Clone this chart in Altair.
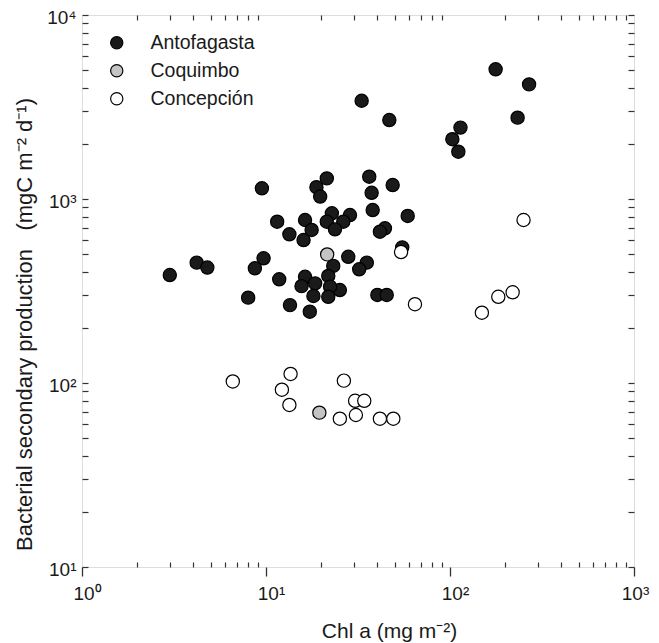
import altair as alt
import pandas as pd

# ---- data (Chl a in mg m^-2, BSP in mgC m^-2 d^-1) ----
anto_chl = [3.0, 4.2, 4.8, 9.5, 11.5, 13.4, 16.0, 16.3, 17.7, 9.7,
            8.7, 11.8, 8.0, 13.5, 17.3, 16.3, 18.8, 19.7, 21.4, 36.4,
            37.5, 48.8, 38.0, 58.9, 22.8, 21.4, 28.6, 26.3, 23.7, 44.3,
            41.6, 55.0, 28.0, 35.3, 32.1, 23.2, 21.8, 25.2, 22.3, 21.8,
            40.3, 45.3, 15.6, 18.5, 18.1, 33.1, 46.8, 177, 269, 233,
            114, 103, 111]
anto_bsp = [386, 451, 424, 1143, 753, 643, 598, 769, 679, 476,
            420, 366, 291, 265, 244, 378, 1160, 1031, 1294, 1322,
            1081, 1191, 871, 809, 836, 753, 818, 753, 684, 693,
            664, 546, 485, 451, 415, 433, 382, 320, 334, 294,
            301, 301, 336, 348, 297, 3420, 2686, 5070, 4196, 2768,
            2443, 2113, 1808]

coq_chl = [21.5, 19.5]
coq_bsp = [500, 69]

conc_chl = [6.6, 13.6, 12.2, 13.4, 25.2, 26.5, 30.5, 34.2, 30.8, 41.6,
            49.2, 54.2, 64.5, 149, 183, 219, 251]
conc_bsp = [102, 112, 92, 76, 64, 103, 80, 80, 67, 64,
            64, 515, 268, 241, 294, 311, 769]

sites = ["Antofagasta", "Coquimbo", "Concepción"]
site_fills = ["#1a1a1a", "#c4c4c4", "#ffffff"]

x_major = [1, 10, 100, 1000]
x_minor = [2, 3, 4, 5, 6, 7, 8, 9, 20, 30, 40, 50, 60, 70, 80, 90,
           200, 300, 400, 500, 600, 700, 800, 900]
y_major = [10, 100, 1000, 10000]
y_minor = [20, 30, 40, 50, 60, 70, 80, 90, 200, 300, 400, 500, 600, 700, 800, 900,
           2000, 3000, 4000, 5000, 6000, 7000, 8000, 9000]

rows = []
for name, xs, ys in [(sites[0], anto_chl, anto_bsp),
                     (sites[1], coq_chl, coq_bsp),
                     (sites[2], conc_chl, conc_bsp)]:
    for a, b in zip(xs, ys):
        rows.append({"site": name, "chl": a, "bsp": b, "idx": len(rows)})
df = pd.DataFrame(rows)

FONT = "Liberation Sans"
INK = "#1a1a1a"
AX = "#333333"

sup_x = ("datum.value == 1 ? '10\u2070' : datum.value == 10 ? '10\u00b9' : "
         "datum.value == 100 ? '10\u00b2' : '10\u00b3'")
sup_y = ("datum.value == 10 ? '10\u00b9' : datum.value == 100 ? '10\u00b2' : "
         "datum.value == 1000 ? '10\u00b3' : '10\u2074'")

xscale = alt.Scale(type="log", domain=[1, 1000], nice=False)
yscale = alt.Scale(type="log", domain=[10, 10000], nice=False)

base = alt.Chart(df)

points = base.mark_circle(size=175, stroke="black", strokeWidth=1.2, opacity=1).encode(
    x=alt.X("chl:Q", scale=xscale,
            axis=alt.Axis(orient="bottom", values=x_major, labelExpr=sup_x, grid=False,
                          domain=False, ticks=True, tickSize=9, tickWidth=1.3, tickColor=AX,
                          labelFont=FONT, labelFontSize=19, labelColor=INK, labelPadding=8,
                          labelOffset={"condition": {"test": "datum.value >= 1000", "value": 1},
                                       "value": 5},
                          labelFlush=False,
                          title="Chl a (mg m\u207b\u00b2)", titleFont=FONT, titleFontSize=21,
                          titleFontWeight="normal", titleColor=INK, titleX=307, titleY=70,
                          titleAlign="center", titleBaseline="alphabetic")),
    y=alt.Y("bsp:Q", scale=yscale,
            axis=alt.Axis(orient="left", values=y_major, labelExpr=sup_y, grid=False,
                          domain=False, ticks=False, tickSize=0,
                          labelFont=FONT, labelFontSize=19, labelColor=INK, labelPadding=6,
                          labelBaseline="alphabetic", labelOffset=8, labelFlush=False,
                          title="Bacterial secondary production\u00a0\u00a0\u00a0(mgC m\u207b\u00b2 d\u207b\u00b9)",
                          titleFont=FONT, titleFontSize=22, titleFontWeight="normal",
                          titleColor=INK, titleAngle=270, titleX=-51, titleY=309,
                          titleAlign="center", titleBaseline="alphabetic")),
    fill=alt.Fill("site:N", scale=alt.Scale(domain=sites, range=site_fills),
                  legend=alt.Legend(orient="none", legendX=25, legendY=18, title=None,
                                    symbolType="circle", symbolSize=150,
                                    symbolStrokeColor="black", symbolStrokeWidth=1.2,
                                    symbolOpacity=1,
                                    labelFont=FONT, labelFontSize=19.5, labelColor=INK,
                                    labelOffset=24, rowPadding=7, padding=0)),
    order=alt.Order("idx:Q"),
)

inner_bl = base.mark_point(opacity=0).encode(
    x=alt.X("chl:Q", scale=xscale,
            axis=alt.Axis(orient="bottom", values=x_minor, offset=-5, tickSize=5,
                          tickWidth=1.2, tickColor=AX, labels=False, domain=False,
                          grid=False, title=None)),
    y=alt.Y("bsp:Q", scale=yscale,
            axis=alt.Axis(orient="left", values=y_major + y_minor, offset=-6, tickSize=6,
                          tickWidth=1.2, tickColor=AX, labels=False, domain=False,
                          grid=False, title=None)),
)

inner_tr = base.mark_point(opacity=0).encode(
    x=alt.X("chl:Q", scale=xscale,
            axis=alt.Axis(orient="top", values=x_minor, offset=-5, tickSize=5,
                          tickWidth=1.2, tickColor=AX, labels=False, domain=False,
                          grid=False, title=None)),
    y=alt.Y("bsp:Q", scale=yscale,
            axis=alt.Axis(orient="right", values=y_major + y_minor, offset=-6, tickSize=6,
                          tickWidth=1.2, tickColor=AX, labels=False, domain=False,
                          grid=False, title=None)),
)

chart = alt.layer(points, inner_bl, inner_tr).resolve_axis(
    x="independent", y="independent"
).properties(
    width=552, height=552,
    autosize=alt.AutoSizeParams(type="none"),
    padding={"left": 74, "top": 7, "right": 17, "bottom": 76},
).configure_view(
    stroke=AX, strokeWidth=1.5
).configure(background="white")

chart.save("out.html", embed_options={"renderer": "svg", "actions": False})
